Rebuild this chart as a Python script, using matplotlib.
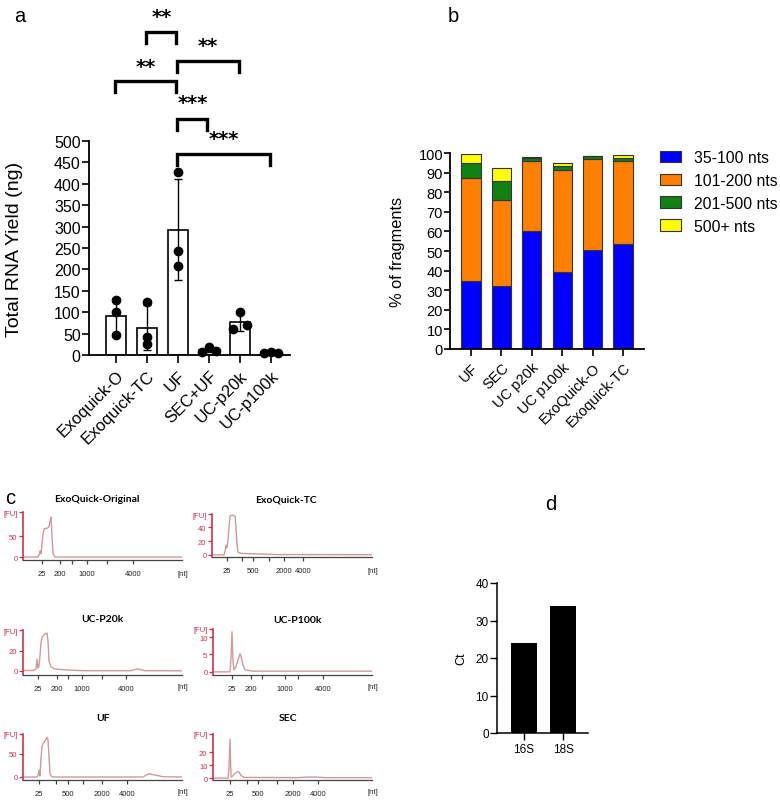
import matplotlib
matplotlib.use("Agg")
import matplotlib.pyplot as plt
import numpy as np
from matplotlib.patches import Patch

plt.rcParams['font.family'] = ['Liberation Sans', 'DejaVu Sans']

# ---------------- data ----------------
# panel a
a_groups = ['Exoquick-O', 'Exoquick-TC', 'UF', 'SEC+UF', 'UC-p20k', 'UC-p100k']
a_means = [92, 64, 293, 12, 77, 6]
a_sd = [41, 53, 118, 5, 20, 2]
a_points = [[128, 100, 47], [123, 43, 25], [427, 244, 207],
            [8, 18, 10], [60, 100, 70], [5, 8, 5]]
a_sig = [(1, 2, '**'), (2, 4, '**'), (0, 2, '**'), (2, 3, '***'), (2, 5, '***')]

# panel b
b_groups = ['UF', 'SEC', 'UC p20k', 'UC p100k', 'ExoQuick-O', 'Exoquick-TC']
b_35_100 = [34.5, 32.0, 60.0, 39.5, 50.5, 53.5]
b_101_200 = [53.0, 44.0, 36.0, 52.0, 46.5, 42.5]
b_201_500 = [7.5, 9.5, 1.5, 2.0, 1.5, 1.5]
b_500p = [4.5, 7.0, 0.5, 1.5, 0.2, 1.5]
b_labels = ['35-100 nts', '101-200 nts', '201-500 nts', '500+ nts']

# panel c (electropherograms: migration position, fluorescence units)
exoO_pos = [0, 15, 16, 17, 18, 19, 20, 21, 22, 24, 26, 27, 28, 29, 30, 32, 159]
exoO_fu = [0, 0, 4, 15, 8, 30, 55, 66, 68, 68, 72, 85, 95, 50, 8, 0, 0]
exoTC_pos = [0, 12, 13, 14, 15, 16, 17, 18, 19, 21, 23, 24, 25, 26, 28, 35, 50, 65, 160]
exoTC_fu = [0, 0, 5, 14, 10, 20, 40, 55, 57, 57, 56, 40, 15, 4, 2.5, 1.8, 1.2, 0.5, 0.3]
p20k_pos = [0, 10, 13, 14, 15, 16, 17, 18, 19, 20, 22, 24, 25, 26, 28, 32, 45, 60,
            108, 112, 115, 118, 122, 159]
p20k_fu = [0.5, 0.5, 2, 12, 3, 5, 15, 28, 33, 35, 37, 38, 30, 10, 4, 2, 1, 0.3,
           0.3, 1.5, 2, 1.2, 0.3, 0.2]
p100k_pos = [0, 17, 18, 19, 20, 21, 23, 25, 27, 28, 30, 32, 40, 159]
p100k_fu = [0, 0, 4, 11.5, 3, 0.5, 1.5, 3.5, 5.2, 4.5, 2, 0.6, 0.2, 0.2]
uf_pos = [0, 14, 15, 16, 17, 18, 19, 20, 22, 24, 25, 26, 27, 29, 120, 123, 126, 130, 135, 140, 159]
uf_fu = [0, 0, 3, 15, 2, 40, 65, 72, 78, 86, 80, 45, 6, 0, 0, 4, 7, 5, 3, 0.5, 0]
sec_pos = [0, 15, 16, 17, 18, 19, 21, 23, 25, 26, 28, 31, 85, 95, 105, 112, 159]
sec_fu = [0, 0, 8, 30, 1, 1, 3, 4, 5, 4.5, 2, 0.5, 0.3, 0.8, 0.7, 0.3, 0.3]

labels_200 = ['25', '200', '', '1000', '', '4000']
labels_500 = ['25', '', '500', '', '2000', '4000']

# panel d
d_groups = ['16S', '18S']
d_ct = [24, 34]

# ---------------- figure ----------------
W, H = 780, 803
fig = plt.figure(figsize=(W / 100, H / 100), dpi=100)


def fx(x):
    return x / W


def fy(y):
    return 1 - y / H


def ax_px(x0, x1, ytop, ybot):
    return fig.add_axes([x0 / W, 1 - ybot / H, (x1 - x0) / W, (ybot - ytop) / H])


# ---------------- panel a ----------------
axA = ax_px(89, 290, 142, 356)
xa = np.arange(len(a_groups))
axA.bar(xa, a_means, width=0.65, color='white', edgecolor='black', linewidth=1.2, zorder=2)
axA.errorbar(xa, a_means, yerr=a_sd, fmt='none', ecolor='black', elinewidth=1.0,
             capsize=3, capthick=1.0, zorder=3)
jit = [[0, 0, 0], [0, 0, 0], [0, 0, 0], [-0.23, 0, 0.23], [-0.22, 0, 0.22], [-0.22, 0, 0.22]]
for i, pts in enumerate(a_points):
    axA.plot(xa[i] + np.array(jit[i]), pts, 'o', color='black', ms=6, zorder=4,
             clip_on=False)
axA.set_xlim(-0.87, 5.61)
axA.set_ylim(0, 500)
axA.set_yticks(np.arange(0, 501, 50))
axA.set_xticks(xa)
axA.set_xticklabels(a_groups, rotation=45, ha='right', rotation_mode='anchor', fontsize=12)
axA.tick_params(axis='y', labelsize=11.5, length=5, width=1.2, pad=1)
axA.tick_params(axis='x', length=6, width=1.2, pad=3)
for s in ['top', 'right']:
    axA.spines[s].set_visible(False)
for s in ['left', 'bottom']:
    axA.spines[s].set_linewidth(1.3)
axA.set_ylabel('Total RNA Yield (ng)', fontsize=14)
axA.yaxis.set_label_coords(-0.33, 0.5)

br_top = [755, 687, 640, 551, 470]
br_leg = 26
star_y = [792, 724, 675, 591, 505]
for k, (i, j, s) in enumerate(a_sig):
    xi = xa[i] - 0.02
    xj = xa[j] - 0.05
    t = br_top[k]
    axA.plot([xi, xi, xj, xj], [t - br_leg, t, t, t - br_leg], color='black', lw=2.4,
             clip_on=False, solid_joinstyle='miter')
    axA.text((xi + xj) / 2, star_y[k], s, ha='center', va='center', fontsize=14,
             fontweight='bold', family=['DejaVu Sans'], clip_on=False)

# ---------------- panel b ----------------
axB = ax_px(450, 644, 154, 350)
xb = np.arange(len(b_groups))
cols = ['#0000ff', '#ff8000', '#138013', '#ffff00']
bottom = np.zeros(len(b_groups))
handles = []
for vals, c, lab in zip([b_35_100, b_101_200, b_201_500, b_500p], cols, b_labels):
    axB.bar(xb, vals, bottom=bottom, width=0.63, color=c, edgecolor='#333333', linewidth=0.8,
            zorder=2)
    bottom = bottom + np.array(vals)
    handles.append(Patch(facecolor=c, edgecolor='#333333', linewidth=0.8, label=lab))
axB.set_xlim(-0.69, 5.69)
axB.set_ylim(0, 100)
axB.set_yticks(np.arange(0, 101, 10))
axB.set_xticks(xb)
axB.set_xticklabels(b_groups, rotation=45, ha='right', rotation_mode='anchor', fontsize=10.5)
axB.tick_params(axis='y', labelsize=10.5, length=4, width=1.2, pad=1)
axB.tick_params(axis='x', length=5, width=1.2, pad=3)
for s in ['top', 'right']:
    axB.spines[s].set_visible(False)
for s in ['left', 'bottom']:
    axB.spines[s].set_linewidth(1.3)
axB.set_ylabel('% of fragments', fontsize=11.8)
axB.yaxis.set_label_coords(-0.23, 0.5)
fig.legend(handles=handles, loc='upper left', bbox_to_anchor=(fx(660), fy(151)),
           bbox_transform=fig.transFigure, frameon=False, fontsize=11.3,
           handlelength=1.35, handleheight=0.75, labelspacing=0.5, handletextpad=0.8,
           borderpad=0, borderaxespad=0)

# ---------------- panel c ----------------
red = '#d0304f'
trace_col = '#cf9a9c'
cspecs = [
    ('ExoQuick-Original', 97, 500, 23, 182, 513, 561, (-7, 107), [0, 50],
     exoO_pos, exoO_fu, [19, 37, 49, 64, 84, 110], labels_200, 575),
    ('ExoQuick-TC', 286, 500, 212, 372, 515, 558, (-3, 59), [0, 20, 40],
     exoTC_pos, exoTC_fu, [15, 30, 41, 57, 72, 91], labels_500, 572),
    ('UC-P20k', 102, 620, 23, 182, 631, 676, (-4, 41), [0, 20],
     p20k_pos, p20k_fu, [15, 34, 45, 59, 79, 103], labels_200, 688),
    ('UC-P100k', 297, 621, 213, 372, 630, 676, (-0.9, 12.3), [0, 5, 10],
     p100k_pos, p100k_fu, [19, 38, 49, 72, 85, 110], labels_200, 688),
    ('UF', 103, 719, 23, 182, 735, 781, (-6.5, 93), [0, 50],
     uf_pos, uf_fu, [16, 33, 45, 60, 79, 104], labels_500, 793),
    ('SEC', 288, 719, 213, 372, 735, 781, (-1.5, 34), [0, 10, 20],
     sec_pos, sec_fu, [17, 34, 45, 64, 80, 105], labels_500, 793),
]
for (title, tx, ty, x0, x1, yt, yb, ylim, yticks, pos, fu, xt, xl, nty) in cspecs:
    ax = ax_px(x0, x1, yt, yb)
    ax.plot(pos, fu, color=trace_col, lw=1.0)
    ax.set_xlim(0, x1 - x0)
    ax.set_ylim(*ylim)
    ax.set_yticks(yticks + [ylim[1]])
    ax.set_yticklabels([str(v) for v in yticks] + ['[FU]'])
    ax.set_xticks(xt)
    ax.set_xticklabels(xl)
    for s in ['top', 'right']:
        ax.spines[s].set_visible(False)
    ax.spines['left'].set_color(red)
    ax.spines['left'].set_linewidth(1.2)
    ax.spines['bottom'].set_color('#444444')
    ax.spines['bottom'].set_linewidth(0.9)
    ax.tick_params(axis='y', colors=red, labelsize=5.5, length=3, width=0.9, pad=1)
    ax.tick_params(axis='x', colors='#444444', labelcolor='#222222', labelsize=5.5,
                   length=3, width=0.9, pad=4)
    ax.patch.set_alpha(0)
    fig.text(fx(tx), fy(ty), title, ha='center', va='center', fontsize=7.5,
             fontweight='bold', family=['Lato', 'DejaVu Sans'])
    fig.text(fx(x1 + 1), fy(nty), '[nt]', ha='center', va='center', fontsize=5.5,
             color='#222222')

# ---------------- panel d ----------------
axD = ax_px(497, 588, 584, 734)
xd = np.arange(len(d_groups))
axD.bar(xd, d_ct, width=0.67, color='black', zorder=2)
axD.set_xlim(-0.69, 1.64)
axD.set_ylim(0, 40)
axD.set_yticks([0, 10, 20, 30, 40])
axD.set_xticks(xd)
axD.set_xticklabels(d_groups, fontsize=8.5)
axD.tick_params(axis='y', labelsize=8.5, length=5, width=1.0, pad=1)
axD.tick_params(axis='x', length=5, width=1.0, pad=2)
for s in ['top', 'right']:
    axD.spines[s].set_visible(False)
for s in ['left', 'bottom']:
    axD.spines[s].set_linewidth(1.1)
axD.set_ylabel('Ct', fontsize=9, labelpad=6)

# panel letters
for lab, x, y in [('a', 20, 16), ('b', 453, 16), ('c', 10, 499), ('d', 551, 505)]:
    fig.text(fx(x), fy(y), lab, ha='center', va='center', fontsize=14.5)

fig.savefig('out.png', dpi=100)
